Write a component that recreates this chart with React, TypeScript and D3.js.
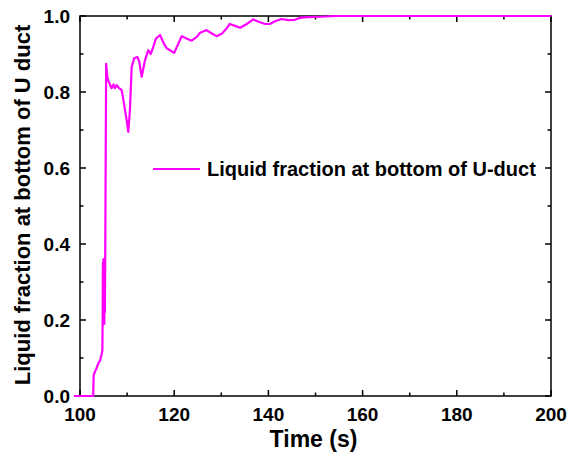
import React from "react";
import * as d3 from "d3";

// Liquid fraction time series (time in s, fraction 0..1)
const times: number[] = [
  98.7, 102.8, 102.9, 103.2, 103.5, 103.7, 104.0, 104.3, 104.6, 104.75,
  104.8, 104.86, 104.92, 104.98, 105.04, 105.1, 105.16, 105.22, 105.28, 105.35,
  105.55, 105.8, 106.0, 106.7, 107.1, 107.4, 107.8, 108.3, 108.85, 109.2,
  109.9, 110.25, 110.6, 110.97, 111.5, 112.2, 112.6, 113.1, 113.8, 114.5,
  115.0, 115.6, 116.1, 117.0, 117.7, 118.4, 119.1, 120.0, 120.9, 121.6,
  122.7, 123.7, 124.8, 125.5, 126.9, 128.0, 129.0, 130.1, 131.1, 131.8,
  132.9, 134.0, 135.4, 136.8, 137.9, 139.3, 140.3, 141.4, 142.8, 144.2,
  145.6, 146.7, 148.1, 151.0, 154.5, 160.0, 170.0, 180.0, 190.0, 200.0,
];
const fractions: number[] = [
  0.0, 0.0, 0.055, 0.065, 0.072, 0.08, 0.088, 0.095, 0.11, 0.12,
  0.19, 0.35, 0.2, 0.36, 0.19, 0.35, 0.19, 0.36, 0.22, 0.35,
  0.874, 0.84, 0.83, 0.81, 0.82, 0.81, 0.818, 0.81, 0.805, 0.78,
  0.726, 0.695, 0.753, 0.866, 0.889, 0.892, 0.879, 0.84, 0.884, 0.91,
  0.9, 0.92, 0.94, 0.95, 0.93, 0.915, 0.91, 0.903, 0.928, 0.947,
  0.94, 0.935, 0.945, 0.956, 0.963, 0.954, 0.947, 0.953, 0.967, 0.979,
  0.974, 0.969, 0.979, 0.991, 0.985, 0.979, 0.979, 0.986, 0.992, 0.989,
  0.99, 0.995, 0.997, 0.998, 1.0, 1.0, 1.0, 1.0, 1.0, 1.0,
];

const xMajorTicks: number[] = [100, 120, 140, 160, 180, 200];
const xMinorTicks: number[] = [110, 130, 150, 170, 190];
const yMajorTicks: number[] = [0, 0.2, 0.4, 0.6, 0.8, 1.0];
const yMinorTicks: number[] = [0.1, 0.3, 0.5, 0.7, 0.9];

const seriesName = "Liquid fraction at bottom of U-duct";
const xTitle = "Time (s)";
const yTitle = "Liquid fraction at bottom of U duct";

const W = 581;
const H = 455;
const left = 80;
const right = 551;
const top = 16;
const bottom = 396;
const FONT = "'Liberation Sans', Arial, Helvetica, sans-serif";
const MAJ = 6;
const MIN = 3.5;

export default function App() {
  const x = d3.scaleLinear().domain([100, 200]).range([left, right]);
  const y = d3.scaleLinear().domain([0, 1]).range([bottom, top]);

  const pts: [number, number][] = times.map((t, i) => [t, fractions[i]]);
  const line = d3
    .line<[number, number]>()
    .x((d) => x(d[0]))
    .y((d) => y(d[1]));

  const tickStroke = { stroke: "#000", strokeWidth: 1.5 };

  return (
    <svg
      width={W}
      height={H}
      style={{ position: "absolute", left: 0, top: 0, background: "#fff" }}
      fontFamily={FONT}
      fontWeight="bold"
    >
      <rect x={0} y={0} width={W} height={H} fill="#fff" />

      {/* frame */}
      <rect x={left} y={top} width={right - left} height={bottom - top} fill="none" stroke="#000" strokeWidth={1.5} />

      {/* x ticks (bottom and top, inward) */}
      {xMajorTicks.map((v) => (
        <g key={"xM" + v}>
          <line x1={x(v)} x2={x(v)} y1={bottom} y2={bottom - MAJ} {...tickStroke} />
          <line x1={x(v)} x2={x(v)} y1={top} y2={top + MAJ} {...tickStroke} />
          <text x={x(v)} y={421} textAnchor="middle" fontSize={19}>
            {v}
          </text>
        </g>
      ))}
      {xMinorTicks.map((v) => (
        <g key={"xm" + v}>
          <line x1={x(v)} x2={x(v)} y1={bottom} y2={bottom - MIN} {...tickStroke} />
          <line x1={x(v)} x2={x(v)} y1={top} y2={top + MIN} {...tickStroke} />
        </g>
      ))}

      {/* y ticks (left and right, inward) */}
      {yMajorTicks.map((v) => (
        <g key={"yM" + v}>
          <line x1={left} x2={left + MAJ} y1={y(v)} y2={y(v)} {...tickStroke} />
          <line x1={right} x2={right - MAJ} y1={y(v)} y2={y(v)} {...tickStroke} />
          <text x={70} y={y(v) + 7} textAnchor="end" fontSize={19}>
            {v.toFixed(1)}
          </text>
        </g>
      ))}
      {yMinorTicks.map((v) => (
        <g key={"ym" + v}>
          <line x1={left} x2={left + MIN} y1={y(v)} y2={y(v)} {...tickStroke} />
          <line x1={right} x2={right - MIN} y1={y(v)} y2={y(v)} {...tickStroke} />
        </g>
      ))}

      {/* data line, drawn over the frame */}
      <path d={line(pts) ?? ""} fill="none" stroke="#FF00FF" strokeWidth={2.2} strokeLinejoin="round" />

      {/* axis titles */}
      <text x={(left + right) / 2 - 2} y={447} textAnchor="middle" fontSize={23}>
        {xTitle}
      </text>
      <text
        transform={`translate(30, ${(top + bottom) / 2 - 1}) rotate(-90)`}
        textAnchor="middle"
        fontSize={22}
      >
        {yTitle}
      </text>

      {/* legend */}
      <line x1={153} x2={200} y1={169} y2={169} stroke="#FF00FF" strokeWidth={2.2} />
      <text x={207} y={176} fontSize={20}>
        {seriesName}
      </text>
    </svg>
  );
}
